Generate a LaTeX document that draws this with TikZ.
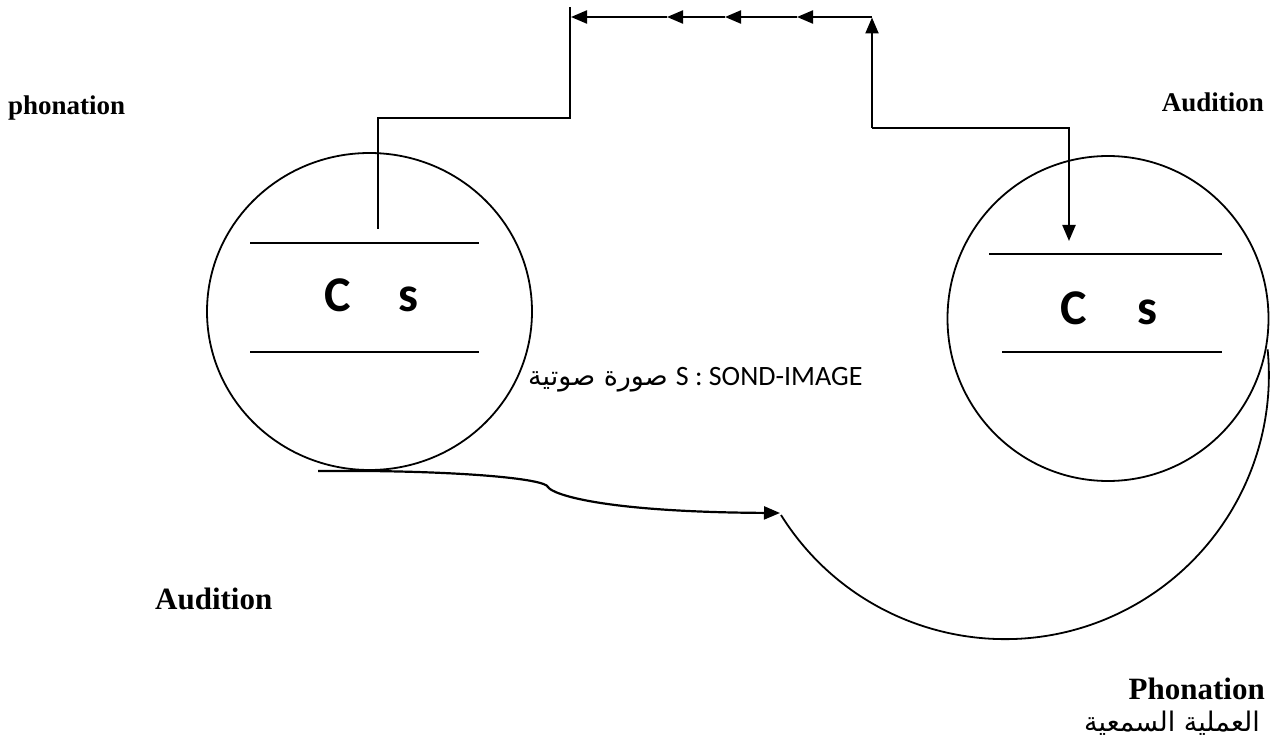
\documentclass[tikz,border=0pt]{standalone}
\usepackage{fontspec}
\setmainfont{Liberation Serif}
\newfontfamily\calib{Carlito}
\newfontfamily\arabicfont[Script=Arabic]{DejaVu Sans}
\TeXXeTstate=1
\usetikzlibrary{arrows.meta,shapes.geometric}
\tikzset{
  ring/.style={draw, ellipse, line width=1.8pt, inner sep=0pt},
  wire/.style={line width=2.2pt},
  arr/.style={line width=2.2pt, -{Triangle[length=16pt,width=13pt]}},
  lbl/.style={font=\fontsize{27}{30}\selectfont\bfseries, inner sep=0pt},
  lblb/.style={font=\fontsize{31}{34}\selectfont\bfseries, inner sep=0pt},
  cs/.style={font=\calib\fontsize{50}{54}\selectfont\bfseries, inner sep=0pt, anchor=base},
}
\begin{document}
\begin{tikzpicture}[x=1pt,y=-1pt]
\useasboundingbox (0,0) rectangle (1270,738);
% circles
\node[ring, minimum width=325pt, minimum height=317pt] (L) at (369.5,311.5) {};
\node[ring, minimum width=321pt, minimum height=325pt] (R) at (1108,318.5) {};
% inner lines
\coordinate (la1) at (250,243); \coordinate (lb1) at (479,243);
\coordinate (la2) at (250,352); \coordinate (lb2) at (479,352);
\coordinate (ra1) at (989,254); \coordinate (rb1) at (1222,254);
\coordinate (ra2) at (1002,352); \coordinate (rb2) at (1222,352);
\draw[line width=1.8pt] (la1) -- (lb1);
\draw[line width=1.8pt] (la2) -- (lb2);
\draw[line width=1.8pt] (ra1) -- (rb1);
\draw[line width=1.8pt] (ra2) -- (rb2);
% C s
\node[cs] (lc) at (338,312) {C};
\node[cs] (ls) at (408,312) {s};
\node[cs] (rc) at (1074,325) {C};
\node[cs] (rs) at (1147,325) {s};
% top path
\coordinate (p0) at (378,229);
\coordinate (p1) at (378,118);
\coordinate (p2) at (570,118);
\coordinate (p3) at (570,7);
\draw[wire] (p0) -- (p1) -- (p2) -- (p3);
\coordinate (t0) at (872,17);
\coordinate (t1) at (797,17);
\coordinate (t2) at (725,17);
\coordinate (t3) at (667,17);
\coordinate (t4) at (571,17);
\draw[arr] (t0) -- (t1);
\draw[arr] (t1) -- (t2);
\draw[arr] (t2) -- (t3);
\draw[arr] (t3) -- (t4);
\coordinate (q0) at (872,128);
\coordinate (q1) at (1069,128);
\coordinate (q2) at (1069,241);
\draw[arr] (q0) -- (872,17.5);
\draw[arr] (q0) -- (q1) -- (q2);
% bottom path
\coordinate (b0) at (318,471);
\coordinate (b1) at (368,471);
\coordinate (m) at (781,515);
\draw[arr] (b0) -- (b1) .. controls (470,472) and (545,479) .. (548,487)
  .. controls (552,494) and (600,512) .. (780,513);
\draw[line width=1.8pt] (m) arc[start angle=148, end angle=-5.6, radius=264];
% labels
\node[lbl, anchor=base west] (ph1) at (8,115) {phonation};
\node[lbl, anchor=base east] (au1) at (1264,112) {Audition};
\node[lblb, anchor=base west] (au2) at (155,609) {Audition};
\node[lblb, anchor=base east] (ph2) at (1265,699) {Phonation};
\node[inner sep=0pt, anchor=west] (snd) at (528,380)
  {{\arabicfont\fontsize{27}{30}\selectfont\beginR صورة صوتية\endR}\hspace{8pt}{\calib\fontsize{28}{31}\selectfont S : SOND-IMAGE}};
\node[inner sep=0pt, anchor=base east] (ar) at (1260,731)
  {\arabicfont\fontsize{27}{30}\selectfont\beginR العملية السمعية\endR};
\end{tikzpicture}
\end{document}
